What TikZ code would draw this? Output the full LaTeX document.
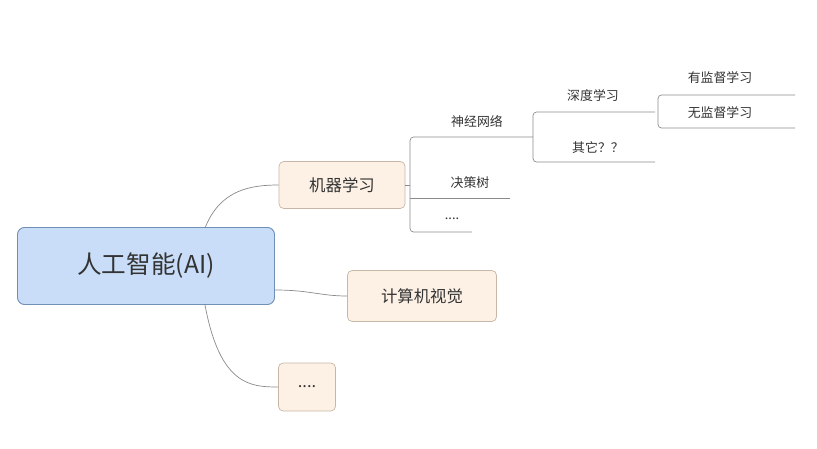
\documentclass[tikz,border=0pt]{standalone}
\usepackage{fontspec}
\setmainfont{Noto Sans CJK SC}
\definecolor{RootClr}{HTML}{C9DDF8}
\definecolor{RootLine}{HTML}{6F8FB5}
\definecolor{TopicClr}{HTML}{FDF1E6}
\definecolor{TopicLine}{HTML}{C8B6A6}
\definecolor{LinkClr}{HTML}{8A8A8A}
\definecolor{TextClr}{HTML}{333333}
\tikzset{
  rootbox/.style={draw=RootLine,fill=RootClr,rounded corners=6pt,line width=.8pt,text=TextClr,
    minimum width=257*0.03cm,minimum height=77*0.03cm,font=\fontsize{21}{24}\selectfont},
  topicbox/.style={draw=TopicLine,fill=TopicClr,rounded corners=4pt,line width=.6pt,text=TextClr,
    minimum height=47*0.03cm,font=\fontsize{14}{16}\selectfont},
  leaf/.style={font=\fontsize{11}{13}\selectfont,inner sep=1pt,text=TextClr},
  link/.style={draw=LinkClr,line width=.6pt}
}
\begin{document}
\begin{tikzpicture}[x=0.03cm,y=-0.03cm]
\useasboundingbox (0,0) rectangle (817,448);

\node[rootbox] (ai) at (146,266) {人工智能(AI)};
\node[topicbox,minimum width=126*0.03cm] (ml) at (342,185) {机器学习};
\node[topicbox,minimum width=149*0.03cm,minimum height=51*0.03cm] (cv) at (422,296) {计算机视觉};
\node[topicbox,minimum width=57*0.03cm,minimum height=48*0.03cm] (etc) at (307,387) {....};

\draw[link] (205,228) .. controls (220,190) and (250,185) .. (ml.west);
\draw[link] (ai.east|-0,290) .. controls (310,290) and (320,296) .. (cv.west);
\draw[link] (205,305) .. controls (220,385) and (250,387) .. (etc.west);

% second level
\node[leaf] (nn) at (477,122) {神经网络};
\node[leaf] (dt) at (470,183) {决策树};
\node[leaf] (dots) at (452,219) {....};
\coordinate (nnEnd) at (533,137);
\coordinate (dtEnd) at (510,198);
\coordinate (dotsEnd) at (472,232);
\draw[link] (ml.east) -- (410,185);
\draw[link,rounded corners=3pt] (nnEnd) -- (410,137) -- (410,232) -- (dotsEnd);
\draw[link] (410,198) -- (dtEnd);

% third level
\node[leaf] (dl) at (593,96) {深度学习};
\node[leaf] (other) at (598,148) {其它？？};
\coordinate (dlEnd) at (655,112);
\coordinate (otherEnd) at (655,162);
\draw[link,rounded corners=3pt] (dlEnd) -- (533,112) -- (533,162) -- (otherEnd);

% fourth level
\node[leaf] (sup) at (720,78) {有监督学习};
\node[leaf] (unsup) at (720,113) {无监督学习};
\coordinate (supEnd) at (795,95);
\coordinate (unsupEnd) at (795,128);
\draw[link,rounded corners=3pt] (supEnd) -- (658,95) -- (658,128) -- (unsupEnd);
\end{tikzpicture}
\end{document}
